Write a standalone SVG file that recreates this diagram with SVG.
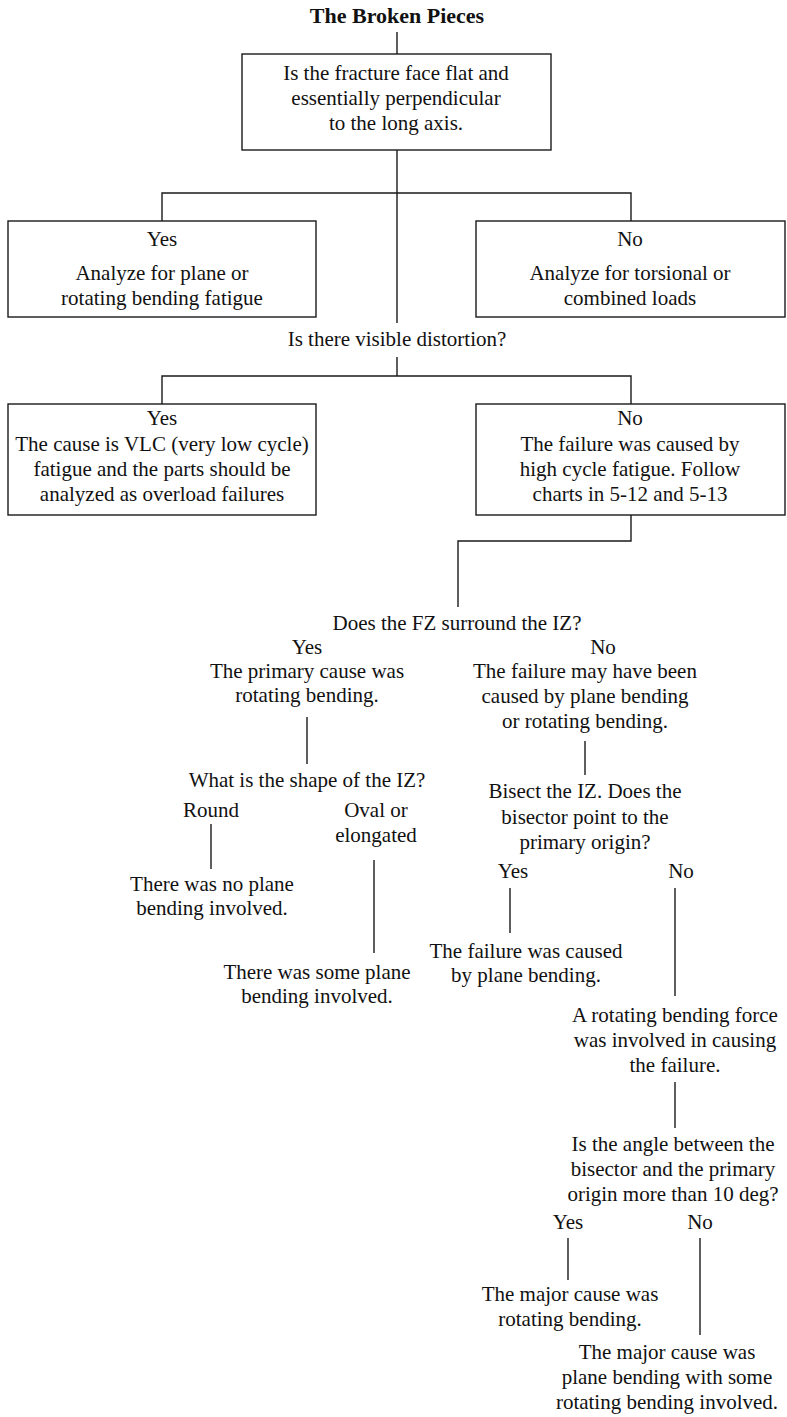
<svg xmlns="http://www.w3.org/2000/svg" width="787" height="1417" viewBox="0 0 787 1417">
<style>
text{font-family:"Liberation Serif","DejaVu Serif",serif;font-size:21px;fill:#111;text-anchor:middle}
.t{font-weight:bold;font-size:22px}
.box{fill:#fff;stroke:#1a1a1a;stroke-width:1.4}
.c{stroke:#1a1a1a;stroke-width:1.4;fill:none}
</style>
<rect width="787" height="1417" fill="#fff"/>
<g id="connectors">
<path class="c" d="M397,32V54"/>
<path class="c" d="M397,150V323"/>
<path class="c" d="M162,221V193H631V221"/>
<path class="c" d="M397,357V376"/>
<path class="c" d="M162,404V376H631V404"/>
<path class="c" d="M631,515V541H458V607"/>
<path class="c" d="M307,717V764"/>
<path class="c" d="M211,824V869"/>
<path class="c" d="M374,860V953"/>
<path class="c" d="M585,741V775"/>
<path class="c" d="M510,888V933"/>
<path class="c" d="M675,888V996"/>
<path class="c" d="M675,1082V1128"/>
<path class="c" d="M568,1238V1280"/>
<path class="c" d="M700,1238V1335"/>
</g>
<g id="title"><text class="t" x="397" y="23">The Broken Pieces</text></g>
<g id="q1">
<rect class="box" x="242" y="54" width="309" height="96"/>
<text x="396" y="80">Is the fracture face flat and</text>
<text x="396" y="105">essentially perpendicular</text>
<text x="396" y="130">to the long axis.</text>
</g>
<g id="yes1">
<rect class="box" x="8" y="221" width="308" height="96"/>
<text x="162" y="246">Yes</text>
<text x="162" y="280">Analyze for plane or</text>
<text x="162" y="305">rotating bending fatigue</text>
</g>
<g id="no1">
<rect class="box" x="476" y="221" width="309" height="96"/>
<text x="630" y="246">No</text>
<text x="630" y="280">Analyze for torsional or</text>
<text x="630" y="305">combined loads</text>
</g>
<g id="q2"><text x="397" y="346">Is there visible distortion?</text></g>
<g id="yes2">
<rect class="box" x="8" y="404" width="308" height="111"/>
<text x="162" y="425">Yes</text>
<text x="162" y="451">The cause is VLC (very low cycle)</text>
<text x="162" y="476">fatigue and the parts should be</text>
<text x="162" y="501">analyzed as overload failures</text>
</g>
<g id="no2">
<rect class="box" x="476" y="404" width="309" height="111"/>
<text x="630" y="425">No</text>
<text x="630" y="451">The failure was caused by</text>
<text x="630" y="476">high cycle fatigue. Follow</text>
<text x="630" y="501">charts in 5-12 and 5-13</text>
</g>
<g id="q3"><text x="457" y="630">Does the FZ surround the IZ?</text></g>
<g id="yes3">
<text x="307" y="654">Yes</text>
<text x="307" y="678">The primary cause was</text>
<text x="307" y="702">rotating bending.</text>
</g>
<g id="no3">
<text x="603" y="654">No</text>
<text x="585" y="678">The failure may have been</text>
<text x="585" y="703">caused by plane bending</text>
<text x="585" y="728">or rotating bending.</text>
</g>
<g id="q4"><text x="307" y="787">What is the shape of the IZ?</text></g>
<g id="round"><text x="211" y="817">Round</text></g>
<g id="oval">
<text x="376" y="817">Oval or</text>
<text x="376" y="842">elongated</text>
</g>
<g id="noplane">
<text x="212" y="891">There was no plane</text>
<text x="212" y="915">bending involved.</text>
</g>
<g id="someplane">
<text x="317" y="979">There was some plane</text>
<text x="317" y="1003">bending involved.</text>
</g>
<g id="q5">
<text x="585" y="798">Bisect the IZ. Does the</text>
<text x="585" y="824">bisector point to the</text>
<text x="585" y="849">primary origin?</text>
</g>
<g id="yes5"><text x="513" y="878">Yes</text></g>
<g id="no5"><text x="681" y="878">No</text></g>
<g id="planebending">
<text x="526" y="958">The failure was caused</text>
<text x="526" y="982">by plane bending.</text>
</g>
<g id="rotforce">
<text x="675" y="1022">A rotating bending force</text>
<text x="675" y="1047">was involved in causing</text>
<text x="675" y="1072">the failure.</text>
</g>
<g id="q6">
<text x="673" y="1151">Is the angle between the</text>
<text x="673" y="1176">bisector and the primary</text>
<text x="673" y="1201">origin more than 10 deg?</text>
</g>
<g id="yes6"><text x="568" y="1229">Yes</text></g>
<g id="no6"><text x="700" y="1229">No</text></g>
<g id="majorrot">
<text x="570" y="1301">The major cause was</text>
<text x="570" y="1326">rotating bending.</text>
</g>
<g id="majorplane">
<text x="667" y="1359">The major cause was</text>
<text x="667" y="1384">plane bending with some</text>
<text x="667" y="1409">rotating bending involved.</text>
</g>
</svg>
